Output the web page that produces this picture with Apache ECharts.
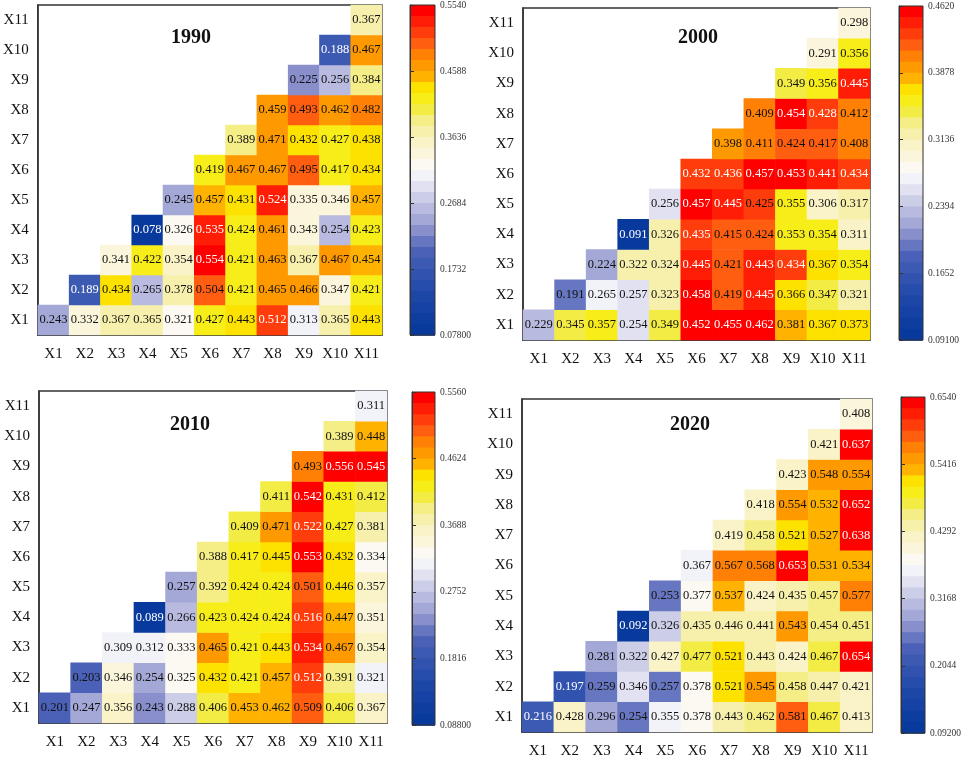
<!DOCTYPE html>
<html>
<head>
<meta charset="utf-8">
<script src="https://cdn.jsdelivr.net/npm/echarts@6/dist/echarts.min.js"></script>
<style>
html, body { margin: 0; padding: 0; background: #fff; }
#main { width: 969px; height: 759px; }
</style>
</head>
<body>
<div id="main"></div>
<script>
// variables on both axes
var vars = ['X1', 'X2', 'X3', 'X4', 'X5', 'X6', 'X7', 'X8', 'X9', 'X10', 'X11'];
var years = ['1990', '2000', '2010', '2020'];

// row Xi holds the values of Xi with Xi .. X11
var v1990 = [
  [0.243, 0.332, 0.367, 0.365, 0.321, 0.427, 0.443, 0.512, 0.313, 0.365, 0.443],
  [0.189, 0.434, 0.265, 0.378, 0.504, 0.421, 0.465, 0.466, 0.347, 0.421],
  [0.341, 0.422, 0.354, 0.554, 0.421, 0.463, 0.367, 0.467, 0.454],
  [0.078, 0.326, 0.535, 0.424, 0.461, 0.343, 0.254, 0.423],
  [0.245, 0.457, 0.431, 0.524, 0.335, 0.346, 0.457],
  [0.419, 0.467, 0.467, 0.495, 0.417, 0.434],
  [0.389, 0.471, 0.432, 0.427, 0.438],
  [0.459, 0.493, 0.462, 0.482],
  [0.225, 0.256, 0.384],
  [0.188, 0.467],
  [0.367]
];
var v2000 = [
  [0.229, 0.345, 0.357, 0.254, 0.349, 0.452, 0.455, 0.462, 0.381, 0.367, 0.373],
  [0.191, 0.265, 0.257, 0.323, 0.458, 0.419, 0.445, 0.366, 0.347, 0.321],
  [0.224, 0.322, 0.324, 0.445, 0.421, 0.443, 0.434, 0.367, 0.354],
  [0.091, 0.326, 0.435, 0.415, 0.424, 0.353, 0.354, 0.311],
  [0.256, 0.457, 0.445, 0.425, 0.355, 0.306, 0.317],
  [0.432, 0.436, 0.457, 0.453, 0.441, 0.434],
  [0.398, 0.411, 0.424, 0.417, 0.408],
  [0.409, 0.454, 0.428, 0.412],
  [0.349, 0.356, 0.445],
  [0.291, 0.356],
  [0.298]
];
var v2010 = [
  [0.201, 0.247, 0.356, 0.243, 0.288, 0.406, 0.453, 0.462, 0.509, 0.406, 0.367],
  [0.203, 0.346, 0.254, 0.325, 0.432, 0.421, 0.457, 0.512, 0.391, 0.321],
  [0.309, 0.312, 0.333, 0.465, 0.421, 0.443, 0.534, 0.467, 0.354],
  [0.089, 0.266, 0.423, 0.424, 0.424, 0.516, 0.447, 0.351],
  [0.257, 0.392, 0.424, 0.424, 0.501, 0.446, 0.357],
  [0.388, 0.417, 0.445, 0.553, 0.432, 0.334],
  [0.409, 0.471, 0.522, 0.427, 0.381],
  [0.411, 0.542, 0.431, 0.412],
  [0.493, 0.556, 0.545],
  [0.389, 0.448],
  [0.311]
];
var v2020 = [
  [0.216, 0.428, 0.296, 0.254, 0.355, 0.378, 0.443, 0.462, 0.581, 0.467, 0.413],
  [0.197, 0.259, 0.346, 0.257, 0.378, 0.521, 0.545, 0.458, 0.447, 0.421],
  [0.281, 0.322, 0.427, 0.477, 0.521, 0.443, 0.424, 0.467, 0.654],
  [0.092, 0.326, 0.435, 0.446, 0.441, 0.543, 0.454, 0.451],
  [0.253, 0.377, 0.537, 0.424, 0.435, 0.457, 0.577],
  [0.367, 0.567, 0.568, 0.653, 0.531, 0.534],
  [0.419, 0.458, 0.521, 0.527, 0.638],
  [0.418, 0.554, 0.532, 0.652],
  [0.423, 0.548, 0.554],
  [0.421, 0.637],
  [0.408]
];

// colour bar ranges and tick labels
var scaleMin = [0.078, 0.091, 0.088, 0.092];
var scaleMax = [0.554, 0.462, 0.556, 0.654];
var ticks1990 = ['0.07800', '0.1732', '0.2684', '0.3636', '0.4588', '0.5540'];
var ticks2000 = ['0.09100', '0.1652', '0.2394', '0.3136', '0.3878', '0.4620'];
var ticks2010 = ['0.08800', '0.1816', '0.2752', '0.3688', '0.4624', '0.5560'];
var ticks2020 = ['0.09200', '0.2044', '0.3168', '0.4292', '0.5416', '0.6540'];

var allValues = [v1990, v2000, v2010, v2020];
var allTicks = [ticks1990, ticks2000, ticks2010, ticks2020];

var palette = ['#08399c', '#113fa2', '#1b46a6', '#2a4fad', '#3a58b2', '#4d63b8', '#8088c8',
  '#a8acd8', '#c4c6e4', '#e2e2f2', '#fbfbfc', '#fbf6dc', '#f9f2c0', '#f5ee90', '#f2ec30',
  '#fdee00', '#ffa800', '#ff8c00', '#ff5a10', '#ff2a08', '#ff0000'];

var serif = '"Liberation Serif", "DejaVu Serif", serif';
var bands = 30;
var overlap = 0.8; // bands overlap a little so no seams show

// panel boxes: heat grid and colour bar
var plots = [
  { x: 37, y: 5, w: 345, h: 330 },
  { x: 523, y: 8, w: 347, h: 332 },
  { x: 39, y: 391, w: 348, h: 332 },
  { x: 522, y: 399, w: 350, h: 335 }
];
var bars = [
  { x: 410, y: 5, w: 25, h: 330 },
  { x: 899, y: 6, w: 24, h: 334 },
  { x: 412, y: 392, w: 23, h: 333 },
  { x: 901, y: 397, w: 24, h: 336 }
];
var titlePos = [[171, 28], [678, 28], [170, 415], [670, 415]];

var grids = [], xAxes = [], yAxes = [], series = [], visualMaps = [], titles = [];

years.forEach(function (yr, p) {
  var lo = scaleMin[p], hi = scaleMax[p];
  var data = [];
  allValues[p].forEach(function (row, r) {
    row.forEach(function (v, k) {
      var t = (v - lo) / (hi - lo);
      var light = t > 0.905 || t < 0.237;
      data.push({ value: [r + k, r, v], label: { color: light ? '#fff' : '#111' } });
    });
  });

  grids.push({
    left: plots[p].x, top: plots[p].y, width: plots[p].w, height: plots[p].h,
    show: true, borderColor: '#333', borderWidth: 1.5, containLabel: false
  });
  xAxes.push({
    type: 'category', data: vars, gridIndex: p,
    axisLine: { lineStyle: { color: '#333', width: 1.5 } },
    axisTick: { alignWithLabel: true, length: 5, lineStyle: { color: '#333' } },
    axisLabel: { interval: 0, fontFamily: serif, fontSize: 15, color: '#111', margin: 12 },
    splitLine: { show: false }
  });
  yAxes.push({
    type: 'category', data: vars, gridIndex: p,
    axisLine: { lineStyle: { color: '#333', width: 1.5 } },
    axisTick: { alignWithLabel: true, length: 5, lineStyle: { color: '#333' } },
    axisLabel: { interval: 0, fontFamily: serif, fontSize: 15, color: '#111', margin: 9 },
    splitLine: { show: false }
  });
  series.push({
    type: 'heatmap', xAxisIndex: p, yAxisIndex: p, data: data,
    label: {
      show: true, fontFamily: serif, fontSize: 12.5,
      formatter: function (d) { return d.value[2].toFixed(3); }
    },
    itemStyle: { borderWidth: 0 },
    emphasis: { disabled: true }
  });
  visualMaps.push({
    type: 'piecewise', seriesIndex: p, min: lo, max: hi, splitNumber: bands,
    orient: 'vertical', left: bars[p].x, top: bars[p].y, padding: 0,
    itemWidth: bars[p].w, itemHeight: bars[p].h / bands + overlap, itemGap: -overlap,
    itemSymbol: 'rect', showLabel: false, hoverLink: false,
    inRange: { color: palette }
  });
  titles.push({
    text: yr, left: titlePos[p][0], top: titlePos[p][1], padding: 0,
    textStyle: { fontFamily: serif, fontWeight: 'bold', fontSize: 20, color: '#111' }
  });
});

// colour bar frames with their tick labels
years.forEach(function (yr, p) {
  var g = grids.length;
  grids.push({
    left: bars[p].x, top: bars[p].y, width: bars[p].w, height: bars[p].h,
    show: true, borderColor: '#333', borderWidth: 1, z: 6
  });
  xAxes.push({ type: 'value', gridIndex: g, show: false, min: 0, max: 1 });
  yAxes.push({
    type: 'value', gridIndex: g, min: 0, max: 5, interval: 1, position: 'right',
    axisLine: { show: true, lineStyle: { color: '#333', width: 1 } },
    axisTick: { show: true, length: 4, lineStyle: { color: '#333' } },
    splitLine: { show: false },
    axisLabel: {
      fontFamily: serif, fontSize: 9.5, color: '#333', margin: 5,
      formatter: function (val) { return allTicks[p][Math.round(val)]; }
    },
    z: 6
  });
});

var myChart = echarts.init(document.getElementById('main'));
myChart.setOption({
  animation: false,
  backgroundColor: '#fff',
  title: titles,
  grid: grids,
  xAxis: xAxes,
  yAxis: yAxes,
  visualMap: visualMaps,
  series: series
});
</script>
</body>
</html>
